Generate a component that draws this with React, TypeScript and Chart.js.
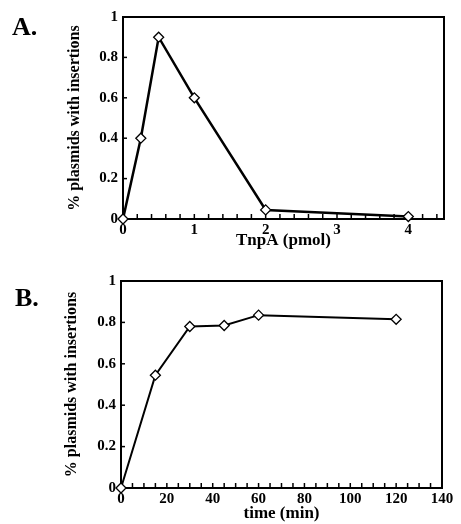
import React, { useEffect, useRef } from 'react';
import { Chart, registerables } from 'chart.js';

Chart.register(...registerables);

// ---- data ----
const doseX = [0, 0.25, 0.5, 1, 2, 4];
const doseY = [0, 0.4, 0.9, 0.6, 0.045, 0.012];
const timeX = [0, 15, 30, 45, 60, 120];
const timeY = [0, 0.545, 0.78, 0.785, 0.835, 0.815];
const yTickValues = [0, 0.2, 0.4, 0.6, 0.8, 1];
const panelLabels = ['A.', 'B.'];
const xTitles = ['TnpA (pmol)', 'time (min)'];
const yTitle = '% plasmids with insertions';

const FONT = "'Liberation Serif', 'Times New Roman', serif";

const W = 461;
const H = 262;

const framePlugin = {
  id: 'frameTicks',
  beforeDatasetsDraw(chart: any) {
    const { ctx, chartArea } = chart;
    const { left, right, top, bottom } = chartArea;
    ctx.save();
    ctx.strokeStyle = '#000';
    ctx.lineWidth = 2;
    ctx.strokeRect(left, top, right - left, bottom - top);
    ctx.lineWidth = 1.5;
    const xs = chart.scales.x;
    xs.ticks.forEach((t: any) => {
      const px = xs.getPixelForValue(t.value);
      ctx.beginPath();
      ctx.moveTo(px, bottom);
      ctx.lineTo(px, bottom - 5);
      ctx.stroke();
    });
    const ys = chart.scales.y;
    ys.ticks.forEach((t: any) => {
      const py = ys.getPixelForValue(t.value);
      ctx.beginPath();
      ctx.moveTo(left, py);
      ctx.lineTo(left + 4, py);
      ctx.stroke();
    });
    ctx.restore();
  },
};

type PanelCfg = {
  xs: number[];
  ys: number[];
  xMax: number;
  xStep: number;
  xLabelStep: number;
  xTitle: string;
  area: { left: number; right: number; top: number; bottom: number };
  yTitlePad: number;
  xTitlePad: number;
  lineWidth: number;
};

function makeChart(canvas: HTMLCanvasElement, cfg: PanelCfg) {
  const isMultiple = (v: number, s: number) => {
    const r = v / s;
    return Math.abs(r - Math.round(r)) < 1e-6;
  };
  return new Chart(canvas, {
    type: 'line',
    data: {
      datasets: [
        {
          data: cfg.xs.map((x, i) => ({ x, y: cfg.ys[i] })),
          borderColor: '#000',
          borderWidth: cfg.lineWidth,
          pointStyle: 'rectRot',
          pointRadius: 5,
          pointBackgroundColor: '#fff',
          pointBorderColor: '#000',
          pointBorderWidth: 1.3,
          tension: 0,
          clip: false,
        } as any,
      ],
    },
    options: {
      animation: false,
      responsive: false,
      devicePixelRatio: 1,
      events: [],
      layout: {
        padding: {
          left: 0,
          right: W - cfg.area.right,
          top: cfg.area.top,
          bottom: 0,
        },
      },
      plugins: {
        legend: { display: false },
        tooltip: { enabled: false },
        title: { display: false },
      },
      scales: {
        x: {
          type: 'linear',
          min: 0,
          max: cfg.xMax,
          grid: { display: false, drawTicks: false },
          border: { display: false },
          afterFit: (s: any) => {
            s.height = H - cfg.area.bottom;
          },
          ticks: {
            stepSize: cfg.xStep,
            includeBounds: false,
            autoSkip: false,
            maxRotation: 0,
            padding: 2,
            color: '#000',
            font: { family: FONT, size: 15, weight: 'bold' },
            callback: (v: any) =>
              isMultiple(Number(v), cfg.xLabelStep) ? String(Math.round(Number(v))) : '',
          },
          title: {
            display: true,
            text: cfg.xTitle,
            color: '#000',
            font: { family: FONT, size: 17, weight: 'bold' },
            padding: { top: 0, bottom: cfg.xTitlePad },
          },
        },
        y: {
          type: 'linear',
          min: 0,
          max: 1,
          grid: { display: false, drawTicks: false },
          border: { display: false },
          afterFit: (s: any) => {
            s.width = cfg.area.left;
          },
          afterBuildTicks: (s: any) => {
            s.ticks = yTickValues.map((v) => ({ value: v }));
          },
          ticks: {
            padding: 5,
            color: '#000',
            font: { family: FONT, size: 15, weight: 'bold' },
            callback: (v: any) => String(Math.round(Number(v) * 10) / 10),
          },
          title: {
            display: true,
            text: yTitle,
            color: '#000',
            font: { family: FONT, size: 16, weight: 'bold' },
            padding: { top: cfg.yTitlePad, bottom: 0 },
          },
        },
      },
    } as any,
    plugins: [framePlugin],
  });
}

export default function App() {
  const refA = useRef<HTMLCanvasElement>(null);
  const refB = useRef<HTMLCanvasElement>(null);

  useEffect(() => {
    const a = makeChart(refA.current!, {
      xs: doseX,
      ys: doseY,
      xMax: 4.5,
      xStep: 0.2,
      xLabelStep: 1,
      xTitle: xTitles[0],
      area: { left: 123, right: 444, top: 17, bottom: 219 },
      yTitlePad: 65,
      xTitlePad: 11,
      lineWidth: 2.5,
    });
    const b = makeChart(refB.current!, {
      xs: timeX,
      ys: timeY,
      xMax: 140,
      xStep: 5,
      xLabelStep: 20,
      xTitle: xTitles[1],
      area: { left: 121, right: 442, top: 19, bottom: 226 },
      yTitlePad: 62,
      xTitlePad: 0,
      lineWidth: 2,
    });
    return () => {
      a.destroy();
      b.destroy();
    };
  }, []);

  const labelStyle: React.CSSProperties = {
    position: 'absolute',
    fontFamily: FONT,
    fontWeight: 'bold',
    fontSize: 26,
    color: '#000',
    margin: 0,
  };

  return (
    <div style={{ position: 'absolute', left: 0, top: 0, width: W, height: 2 * H, background: '#fff' }}>
      <canvas ref={refA} width={W} height={H} style={{ position: 'absolute', left: 0, top: 0, width: W, height: H }} />
      <canvas ref={refB} width={W} height={H} style={{ position: 'absolute', left: 0, top: H, width: W, height: H }} />
      <div style={{ ...labelStyle, left: 12, top: 12 }}>{panelLabels[0]}</div>
      <div style={{ ...labelStyle, left: 15, top: 283 }}>{panelLabels[1]}</div>
    </div>
  );
}
